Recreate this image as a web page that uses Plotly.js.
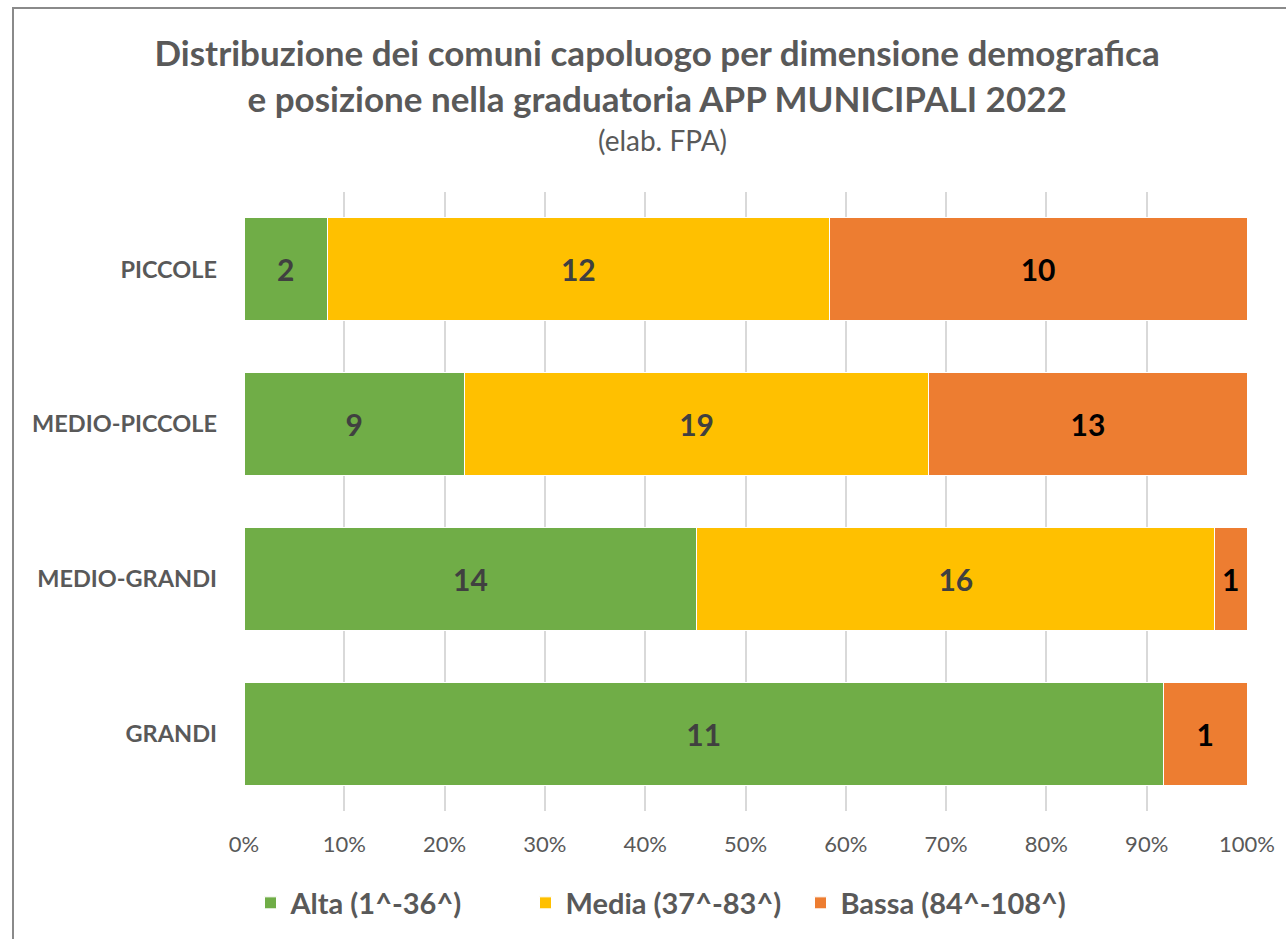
<!DOCTYPE html>
<html>
<head>
<meta charset="utf-8">
<script src="https://cdn.plot.ly/plotly-3.0.1.min.js"></script>
<style>
html, body { margin: 0; padding: 0; background: #ffffff; }
#chart { width: 1286px; height: 939px; }
#frame { position: absolute; left: 12px; top: 7px; width: 1300px; height: 960px;
  border-left: 2px solid #8a8a8a; border-top: 2px solid #8a8a8a; pointer-events: none; box-sizing: border-box; }
</style>
</head>
<body>
<div id="chart"></div>
<div id="frame"></div>
<script>
// Data
const categories = ['GRANDI', 'MEDIO-GRANDI', 'MEDIO-PICCOLE', 'PICCOLE'];
const seriesNames = ['Alta (1^-36^)', 'Media (37^-83^)', 'Bassa (84^-108^)'];
const alta  = [11, 14, 9, 2];
const media = [0, 16, 19, 12];
const bassa = [1, 1, 13, 10];
const xTickVals = [0, 10, 20, 30, 40, 50, 60, 70, 80, 90, 100];
const xTickText = ['0%', '10%', '20%', '30%', '40%', '50%', '60%', '70%', '80%', '90%', '100%'];

const colors = ['#70AD47', '#FFC000', '#ED7D31'];
const labelColors = ['#404040', '#404040', '#000000'];
const FONT = 'Lato, "Open Sans", sans-serif';

const series = [alta, media, bassa];
const traces = series.map((vals, i) => ({
  type: 'bar',
  orientation: 'h',
  name: '<b>' + seriesNames[i] + '</b>',
  y: categories,
  x: vals,
  text: vals.map(v => v > 0 ? String(v) : ''),
  textposition: 'inside',
  insidetextanchor: 'middle',
  textangle: 0,
  constraintext: 'none',
  textfont: { family: FONT, size: 30, weight: 'bold', color: labelColors[i] },
  marker: { color: colors[i], line: { color: '#ffffff', width: 1 } },
  hoverinfo: 'name+x'
}));

const layout = {
  width: 1286,
  height: 939,
  paper_bgcolor: '#ffffff',
  plot_bgcolor: '#ffffff',
  font: { family: FONT, color: '#595959' },
  barmode: 'stack',
  barnorm: 'percent',
  bargap: 0.334,
  margin: { l: 244, r: 39, t: 192, b: 128, pad: 0 },
  title: {
    text: '<b>Distribuzione dei comuni capoluogo per dimensione demografica<br>e posizione nella graduatoria APP MUNICIPALI 2022</b>',
    font: { family: FONT, size: 35, color: '#595959' },
    x: 0.511, xref: 'container', xanchor: 'center',
    y: 1 - 66 / 939, yref: 'container', yanchor: 'top'
  },
  annotations: [{
    text: '(elab. FPA)',
    xref: 'paper', yref: 'paper',
    x: (662 - 244) / 1003, y: 1 + (192 - 140) / 619,
    xanchor: 'center', yanchor: 'middle',
    showarrow: false,
    font: { family: FONT, size: 28, color: '#595959' }
  }],
  xaxis: {
    range: [0, 100],
    tickmode: 'array',
    tickvals: xTickVals,
    ticktext: xTickText,
    showgrid: true,
    gridcolor: '#D9D9D9',
    gridwidth: 1.5,
    zeroline: false,
    showline: false,
    ticks: '',
    ticklabelstandoff: 18,
    tickfont: { family: FONT, size: 22, color: '#595959' },
    fixedrange: true
  },
  yaxis: {
    type: 'category',
    categoryorder: 'array',
    categoryarray: categories,
    showgrid: false,
    zeroline: false,
    showline: false,
    ticks: '',
    ticklabelstandoff: 26,
    tickfont: { family: FONT, size: 23.5, weight: 'bold', color: '#595959' },
    fixedrange: true
  },
  showlegend: true,
  legend: {
    orientation: 'h',
    xref: 'container', yref: 'container',
    x: 663 / 1286, xanchor: 'center',
    y: 1 - 903 / 939, yanchor: 'middle',
    font: { family: FONT, size: 29, color: '#595959' },
    traceorder: 'normal',
    itemwidth: 30,
    entrywidth: 230,
    entrywidthmode: 'pixels'
  }
};

Plotly.newPlot('chart', traces, layout, { displayModeBar: false, staticPlot: false });
</script>
</body>
</html>
